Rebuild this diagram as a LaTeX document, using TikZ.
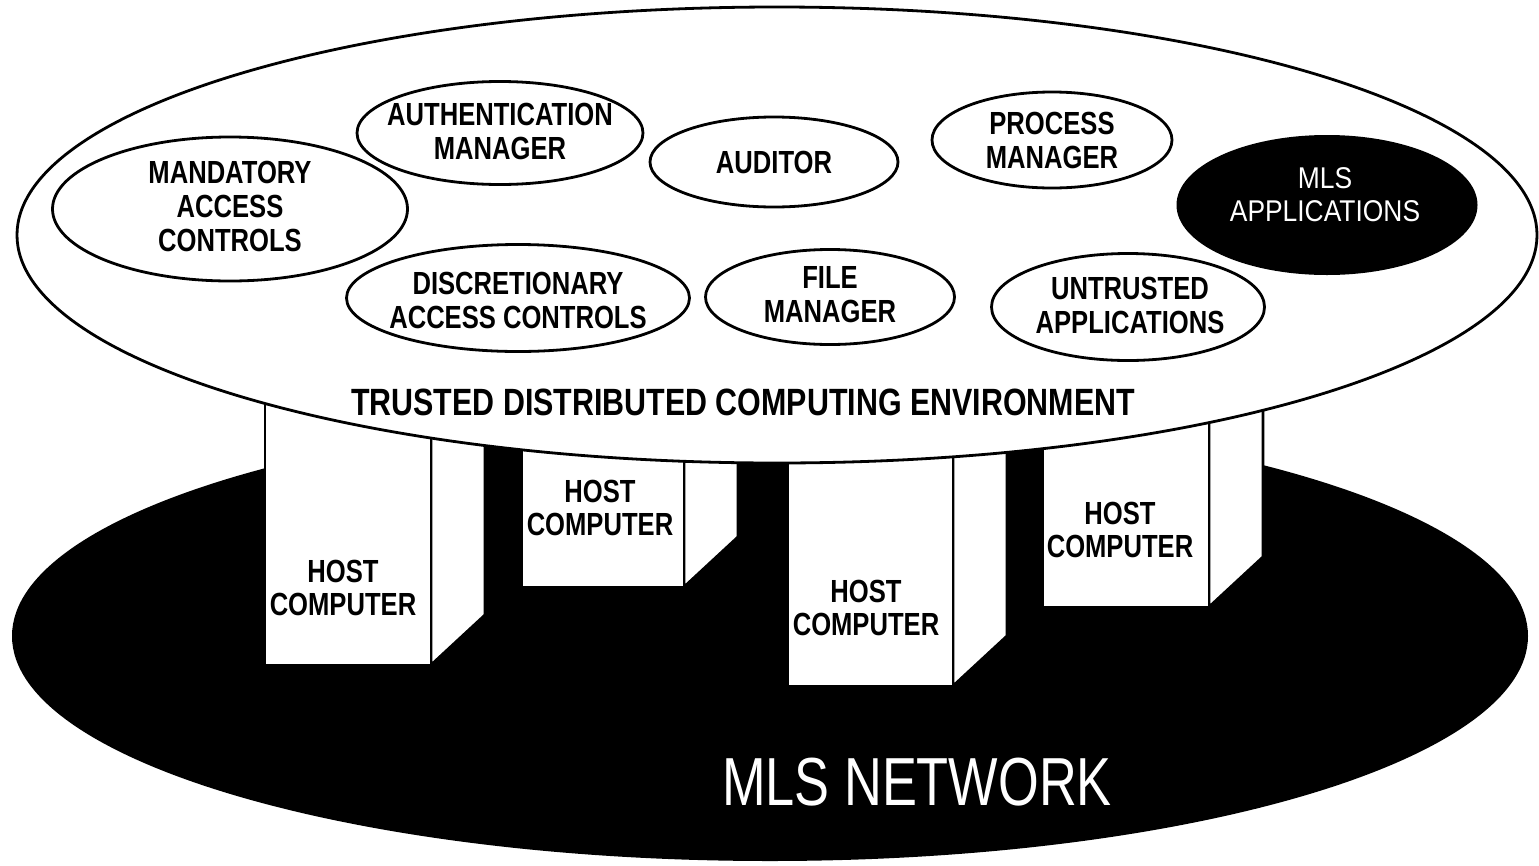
\documentclass[tikz,border=0pt]{standalone}
\usepackage{fontspec}
\setmainfont{Liberation Sans}
\newfontfamily\lblfont[FakeStretch=0.8]{Liberation Sans}
\newfontfamily\netfont[FakeStretch=0.77]{Liberation Sans}
\newfontfamily\appfont[FakeStretch=0.88]{Liberation Sans}
\usetikzlibrary{shapes.geometric}

\begin{document}
\begin{tikzpicture}[x=1pt,y=-1pt,
  outline/.style={line width=2.8pt, line join=round},
  unit/.style={ellipse, draw, fill=white, outline, inner sep=0pt},
  lbl/.style={align=center, inner sep=0pt,
    font=\lblfont\bfseries\fontsize{32}{34}\selectfont},
  hostface/.style={fill=white, draw, outline},
  hosttext/.style={align=center, inner sep=0pt,
    font=\lblfont\bfseries\fontsize{32}{33}\selectfont},
]
\useasboundingbox (0,0) rectangle (1539,865);

% the network the hosts stand on
\node[ellipse, fill=black, inner sep=0pt, minimum width=1516pt,
      minimum height=450pt] (net) at (770,636) {};

% host computers: side face, then front face
\foreach \l/\r/\b in {265/431/665, 522/684/587, 788/953/686, 1043/1209/607} {
  \draw[hostface] (\r,\b) -- (\r+54,\b-50) -- (\r+54,300) -- (\r,300) -- cycle;
  \draw[hostface] (\l,300) rectangle (\r,\b);
}

% trusted computing environment resting on the hosts
\node[unit, minimum width=1520pt, minimum height=456pt] (tdce) at (777,235) {};

% trusted components
\node[unit, minimum width=355pt, minimum height=144pt] (mac)  at (230,209) {};
\node[unit, minimum width=286pt, minimum height=103pt] (auth) at (500,133) {};
\node[unit, minimum width=248pt, minimum height=90pt]  (aud)  at (774,162) {};
\node[unit, minimum width=240pt, minimum height=96pt]  (proc) at (1052,140) {};
\node[unit, minimum width=343pt, minimum height=107pt] (dac)  at (518,298) {};
\node[unit, minimum width=249pt, minimum height=95pt]  (file) at (830,297) {};
\node[unit, minimum width=273pt, minimum height=107pt] (untr) at (1128,307) {};
\node[ellipse, fill=black, inner sep=0pt, minimum width=301pt,
      minimum height=140pt] (mlsapp) at (1327,205) {};

\node[lbl] (mactxt)  at (230,206) {MANDATORY\\ACCESS\\CONTROLS};
\node[lbl] (authtxt) at (500,131) {AUTHENTICATION\\MANAGER};
\node[lbl] (audtxt)  at (aud)  {AUDITOR};
\node[lbl] (proctxt) at (proc) {PROCESS\\MANAGER};
\node[lbl] (dactxt)  at (518,300) {DISCRETIONARY\\ACCESS CONTROLS};
\node[lbl] (filetxt) at (830,295) {FILE\\MANAGER};
\node[lbl] (untrtxt) at (1130,305) {UNTRUSTED\\APPLICATIONS};
\node[align=center, inner sep=0pt, text=white,
      font=\appfont\fontsize{30}{33}\selectfont] (mlsapptxt) at (1325,195)
      {MLS\\APPLICATIONS};

\node[inner sep=0pt, font=\lblfont\bfseries\fontsize{38}{40}\selectfont]
  (tdcetxt) at (743,402) {TRUSTED DISTRIBUTED COMPUTING ENVIRONMENT};

% host labels
\node[hosttext] (h1) at (343,588)  {HOST\\COMPUTER};
\node[hosttext] (h2) at (600,508)  {HOST\\COMPUTER};
\node[hosttext] (h3) at (866,608)  {HOST\\COMPUTER};
\node[hosttext] (h4) at (1120,530) {HOST\\COMPUTER};

% network label
\node[inner sep=0pt, text=white, font=\netfont\fontsize{68}{70}\selectfont]
  (nettxt) at (917,782) {MLS NETWORK};
\end{tikzpicture}
\end{document}
